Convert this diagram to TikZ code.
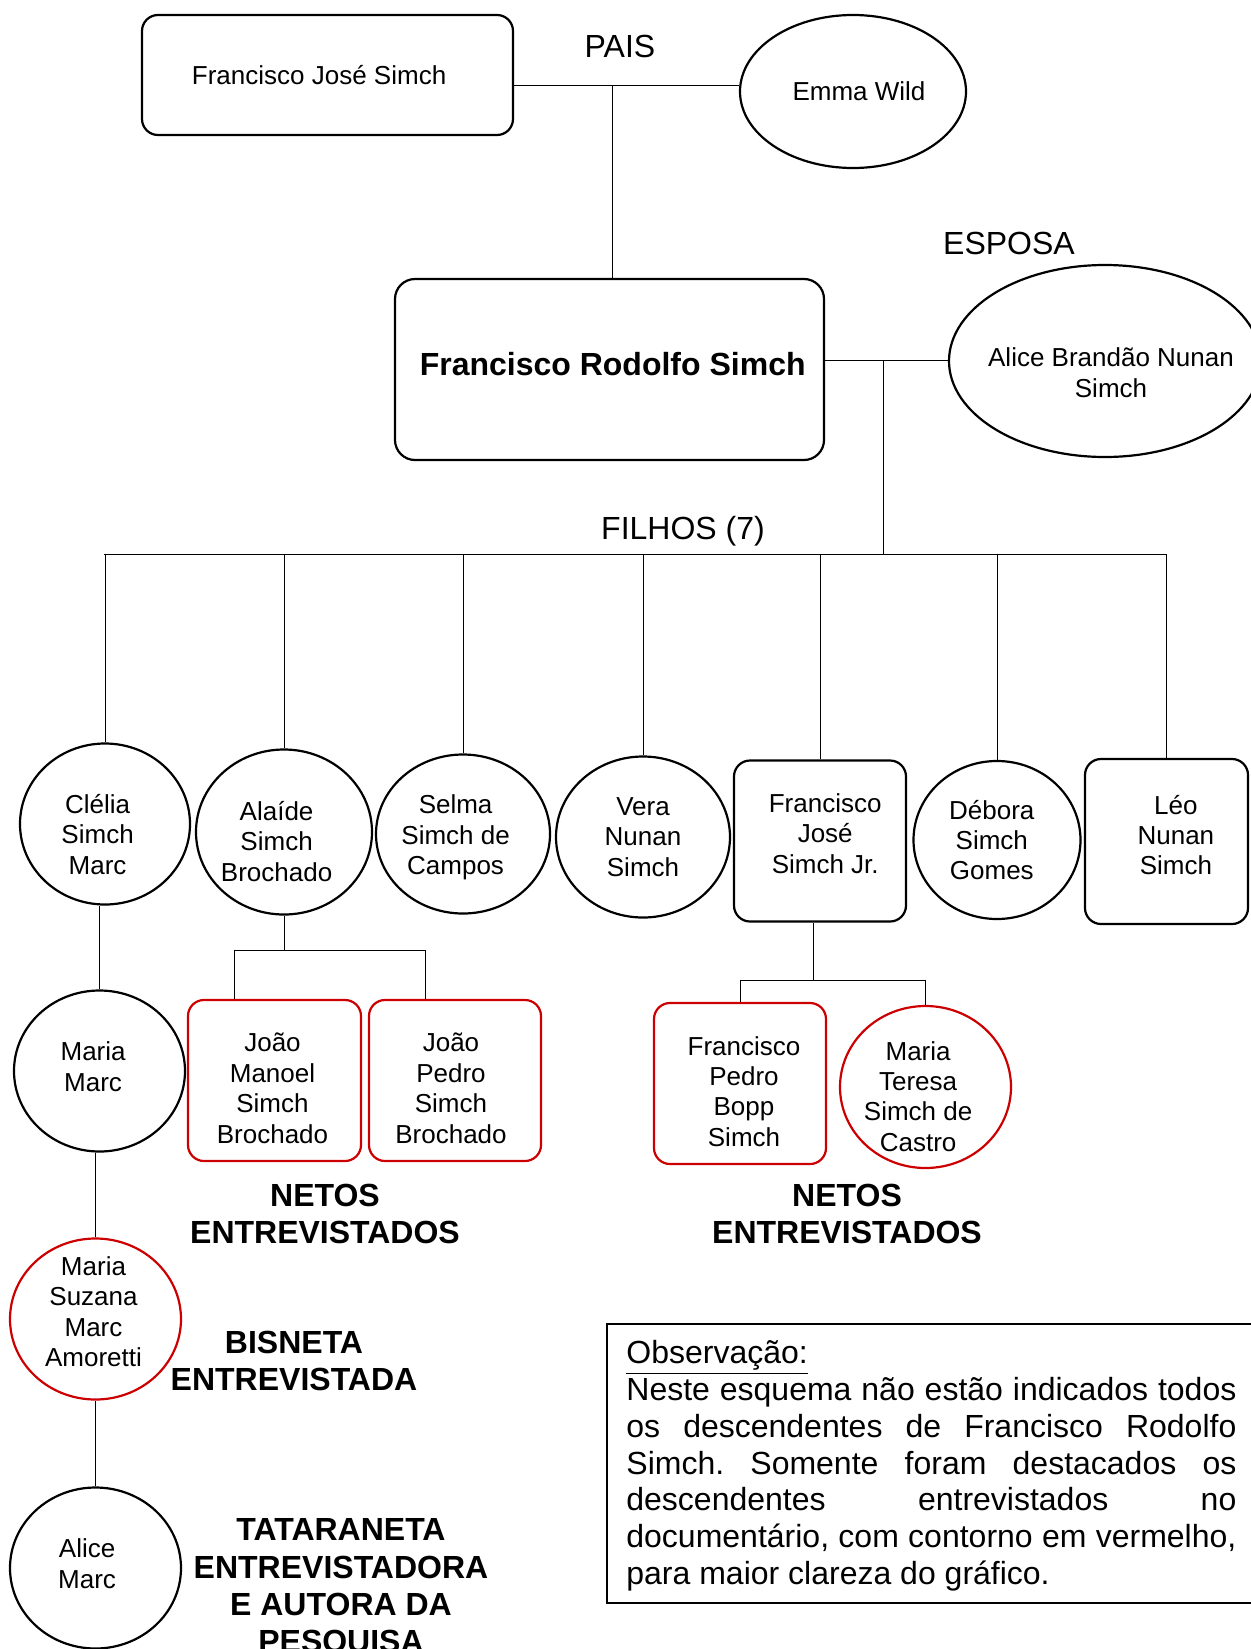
\documentclass[tikz,border=0pt]{standalone}
\usepackage{fontspec}
\setmainfont{Liberation Sans}
\usetikzlibrary{shapes.geometric}
\definecolor{vermelho}{RGB}{204,0,0}
\frenchspacing

\begin{document}
\begin{tikzpicture}[x=0.5pt, y=-0.5pt,
	pessoa/.style={draw, line width=1.1pt},
	oval/.style={pessoa, ellipse, inner sep=-15pt},
	caixa/.style={pessoa, rectangle, rounded corners=8pt, inner sep=0pt},
	entrev/.style={draw=vermelho},
	nome/.style={align=center, inner sep=0pt, font=\fontsize{13}{15.2}\selectfont},
	txt/.style n args={3}{label={[nome, xshift=#1, yshift=#2]center:{#3}}},
	titulo/.style={font=\fontsize{16}{19}\selectfont},
	rotulo/.style={font=\bfseries\fontsize{16}{18.7}\selectfont, align=center},
	liga/.style={line width=0.5pt}]
				\useasboundingbox (0,0) rectangle (1250,1649);

				\node[caixa, minimum width=185.5pt, minimum height=60pt, txt={-4.2pt}{0pt}{Francisco José Simch}] (A) at (327.5,75) {};
				\node[oval, minimum width=113pt, minimum height=76.5pt, txt={3pt}{0pt}{Emma Wild}] (B) at (853,91.5) {};
				\node[titulo] (P) at (620,46) {PAIS};
				\node[caixa, minimum width=214.5pt, minimum height=90.5pt, rounded corners=10pt,
					label={[nome, font=\bfseries\fontsize{16}{19}\selectfont, xshift=1.6pt, yshift=2.6pt]center:Francisco Rodolfo Simch}] (C) at (609.5,369.5) {};
				\node[oval, minimum width=156pt, minimum height=96pt, txt={3pt}{-5.8pt}{Alice Brandão Nunan\\Simch}] (D) at (1105,361) {};
				\node[titulo] (S) at (1009,243) {ESPOSA};
				\node[titulo] (Fi) at (683,531) {FILHOS (7)};

				\coordinate (j1) at (612,85);
				\coordinate (j2) at (883,360);
				\coordinate (j3) at (104,554);
				\coordinate (j4) at (1166,554);
				\draw[liga] (A.east |- j1) -- (B.west |- j1);
				\draw[liga] (j1) -- (C.north -| j1);
				\draw[liga] (C.east |- j2) -- (D.west |- j2);
				\draw[liga] (j2) -- (j2 |- j3);
				\draw[liga] (j3) -- (j4);

				\node[oval, minimum width=85pt, minimum height=80.5pt, txt={-3.7pt}{-5.2pt}{Clélia\\Simch\\Marc}] (E1) at (105,824) {};
				\node[oval, minimum width=88pt, minimum height=82.5pt, txt={-3.7pt}{-4.7pt}{Alaíde\\Simch\\Brochado}] (E2) at (284,832) {};
				\node[oval, minimum width=87pt, minimum height=79.5pt, txt={-3.7pt}{-1.8pt}{Selma\\Simch de\\Campos}] (E3) at (463,834) {};
				\node[oval, minimum width=87pt, minimum height=80.5pt, txt={0pt}{0pt}{Vera\\Nunan\\Simch}] (E4) at (643,837) {};
				\node[caixa, minimum width=86pt, minimum height=80.5pt, txt={2.6pt}{3.7pt}{Francisco\\José\\Simch Jr.}] (E5) at (820,841) {};
				\node[oval, minimum width=83.5pt, minimum height=79pt, txt={-2.6pt}{0pt}{Débora\\Simch\\Gomes}] (E6) at (997,840) {};
				\node[caixa, minimum width=81.5pt, minimum height=82.5pt, txt={4.7pt}{3.2pt}{Léo\\Nunan\\Simch}] (E7) at (1166.5,841.5) {};
				\draw[liga] (E1.north) -- (E1.north |- j3);
				\draw[liga] (E2.north) -- (E2.north |- j3);
				\draw[liga] (E3.north) -- (E3.north |- j3);
				\draw[liga] (E4.north) -- (E4.north |- j3);
				\draw[liga] (E5.north) -- (E5.north |- j3);
				\draw[liga] (E6.north) -- (E6.north |- j3);
				\draw[liga] (E7.north) -- (E7.north |- j3);

				\node[oval, minimum width=85.5pt, minimum height=80.5pt, txt={-3.2pt}{2.1pt}{Maria\\Marc}] (F) at (99.5,1071) {};
				\node[oval, entrev, minimum width=85.5pt, minimum height=80.5pt, txt={-1pt}{3.7pt}{Maria\\Suzana\\Marc\\Amoretti}] (G) at (95.5,1319) {};
				\node[oval, minimum width=85.5pt, minimum height=80.5pt, txt={-4.2pt}{2.1pt}{Alice\\Marc}] (H) at (95.5,1568) {};
				\draw[liga] (F.north) -- (F.north |- E1.south);
				\draw[liga] (G.north) -- (G.north |- F.south);
				\draw[liga] (H.north) -- (H.north |- G.south);

				\node[caixa, entrev, minimum width=86.5pt, minimum height=80.5pt, txt={-1pt}{-3.9pt}{João\\Manoel\\Simch\\Brochado}] (I1) at (274.5,1080.5) {};
				\node[caixa, entrev, minimum width=86pt, minimum height=80.5pt, txt={-2pt}{-3.9pt}{João\\Pedro\\Simch\\Brochado}] (I2) at (455,1080.5) {};
				\coordinate (k1) at (234,950);
				\coordinate (k2) at (425,950);
				\draw[liga] (E2.south) -- (E2.south |- k1);
				\draw[liga] (k1 |- I1.north) -- (k1) -- (k2) -- (k2 |- I2.north);

				\node[caixa, entrev, minimum width=86pt, minimum height=80.5pt, txt={2pt}{-3.9pt}{Francisco\\Pedro\\Bopp\\Simch}] (J1) at (740,1083.5) {};
				\node[oval, entrev, minimum width=85.5pt, minimum height=81pt, txt={-3.7pt}{-4.7pt}{Maria\\Teresa\\Simch de\\Castro}] (J2) at (925.5,1087) {};
				\coordinate (m1) at (813,980);
				\draw[liga] (m1 |- E5.south) -- (m1);
				\draw[liga] (J1.north) -- (J1.north |- m1) -- (J2.north |- m1) -- (J2.north);

				\node[rotulo] (N1) at (325,1214) {NETOS\\ENTREVISTADOS};
				\node[rotulo] (N2) at (847,1214) {NETOS\\ENTREVISTADOS};
				\node[rotulo] (N3) at (294,1361) {BISNETA\\ENTREVISTADA};
				\node[rotulo] (N4) at (341,1589) {TATARANETA\\ENTREVISTADORA\\E AUTORA DA\\PESQUISA};

				\node[draw, line width=1pt, anchor=north west, minimum width=328pt, minimum height=139.5pt] (O) at (606,1323) {};
				\node[anchor=north west, inner sep=0pt, text width=305pt, align=justify, font=\fontsize{16}{18.4}\selectfont] (Ot) at (626,1340) {\underline{Observação:}\\
				Neste esquema não estão indicados todos\linebreak
				os descendentes de Francisco Rodolfo\linebreak
				Simch. Somente foram destacados os\linebreak
				descendentes entrevistados no\linebreak
				documentário, com contorno em vermelho,\linebreak
				para maior clareza do gráfico.};
			\end{tikzpicture}
\end{document}
